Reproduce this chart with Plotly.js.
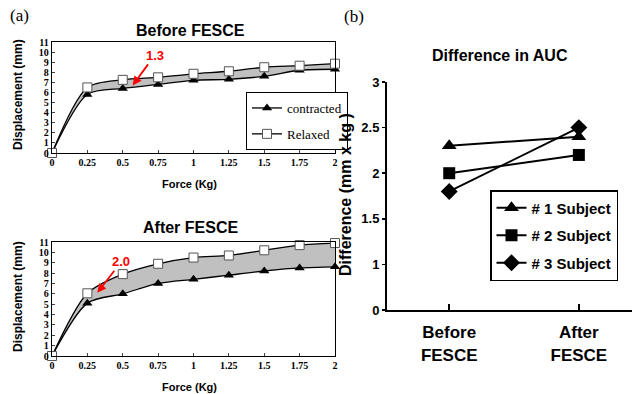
<!DOCTYPE html>
<html><head><meta charset="utf-8">
<script src="https://cdn.plot.ly/plotly-3.0.1.min.js"></script>
<style>html,body{margin:0;padding:0;background:#fff}#chart{width:635px;height:394px}</style>
</head><body><div id="chart"></div>
<script>
const force = [0,0.25,0.5,0.75,1,1.25,1.5,1.75,2];
const forceTicks = ['0','0.25','0.5','0.75','1','1.25','1.5','1.75','2'];
const beforeContracted = [0,5.8,6.4,6.8,7.2,7.3,7.6,8.2,8.3];
const beforeRelaxed   = [0,6.5,7.25,7.5,7.85,8.1,8.5,8.65,8.85];
const afterContracted = [0,5.1,6.0,7.0,7.4,7.8,8.2,8.5,8.6];
const afterRelaxed    = [0,6.05,7.9,8.9,9.5,9.7,10.2,10.7,10.9];
const seriesNames = ['contracted','Relaxed'];

const phasePos = [1,2];
const phaseLabels = ['Before<br>FESCE','After<br>FESCE'];
const subjectNames = ['# 1 Subject','# 2 Subject','# 3 Subject'];
const subject1 = [2.3,2.4];
const subject2 = [2.0,2.2];
const subject3 = [1.8,2.5];
const aucTickVals = [0.5,1,1.5,2,2.5,3];
const aucTickText = ['0','1','1.5','2','2.5','3'];

const fillGrey = '#c0c0c0';
const serif = 'Liberation Serif, Times New Roman, serif';
const sans = 'Liberation Sans, Arial, sans-serif';

function pair(xa, ya, c, r, showLeg) {
  const ln = {color: '#000', width: 1.3, shape: 'spline', smoothing: 0.8};
  return [
    {x: force, y: c, xaxis: xa, yaxis: ya, type: 'scatter', mode: 'lines', showlegend: false,
     hoverinfo: 'skip', line: {color: 'rgba(0,0,0,0)', width: 0, shape: 'spline', smoothing: 0.8}},
    {x: force, y: r, xaxis: xa, yaxis: ya, type: 'scatter', mode: 'lines', showlegend: false,
     hoverinfo: 'skip', fill: 'tonexty', fillcolor: fillGrey,
     line: {color: 'rgba(0,0,0,0)', width: 0, shape: 'spline', smoothing: 0.8}},
    {x: force, y: c, xaxis: xa, yaxis: ya, type: 'scatter', mode: 'lines+markers',
     name: seriesNames[0], legendgroup: 'c', showlegend: showLeg, cliponaxis: false,
     line: ln, marker: {symbol: 'triangle-up', size: 9, color: '#000'}},
    {x: force, y: r, xaxis: xa, yaxis: ya, type: 'scatter', mode: 'lines+markers',
     name: seriesNames[1], legendgroup: 'r', showlegend: showLeg, cliponaxis: false,
     line: ln, marker: {symbol: 'square', size: 9, color: '#fff', line: {color: '#555', width: 1}}}
  ];
}

const subj = [subject1, subject2, subject3];
const syms = ['triangle-up','square','diamond'];
const symSizes = [13, 12, 13];
const rightTraces = subj.map((s, i) => ({
  x: phasePos, y: s, xaxis: 'x3', yaxis: 'y3', type: 'scatter', mode: 'lines+markers',
  name: subjectNames[i], legend: 'legend2', legendgroup: 's' + i, cliponaxis: false,
  line: {color: '#000', width: 2}, marker: {symbol: syms[i], size: symSizes[i], color: '#000'}
}));

const data = [...pair('x','y',beforeContracted,beforeRelaxed,true),
              ...pair('x2','y2',afterContracted,afterRelaxed,false),
              ...rightTraces];

const leftX = {domain: [52/635, 335/635], range: [0,2], tickvals: force, ticktext: forceTicks,
  showline: true, mirror: true, linecolor: '#000', linewidth: 1.2, ticks: 'inside', ticklen: 3,
  showgrid: false, zeroline: false, tickfont: {family: serif, size: 10, color: '#000', weight: 'bold'}};
const leftY = {range: [0,11], dtick: 1, showline: true, mirror: true, linecolor: '#000', linewidth: 1.2,
  ticks: 'inside', ticklen: 3, showgrid: false, zeroline: false,
  tickfont: {family: serif, size: 10, color: '#000', weight: 'bold'}};

const layout = {
  width: 635, height: 394, margin: {l:0, r:0, t:0, b:0},
  paper_bgcolor: '#fff', plot_bgcolor: 'rgba(0,0,0,0)', showlegend: true,
  xaxis: Object.assign({}, leftX, {anchor: 'y'}),
  yaxis: Object.assign({}, leftY, {domain: [1-153/394, 1-42/394], anchor: 'x'}),
  xaxis2: Object.assign({}, leftX, {anchor: 'y2'}),
  yaxis2: Object.assign({}, leftY, {domain: [1-356/394, 1-242/394], anchor: 'x2'}),
  xaxis3: {domain: [387/635, 632/635], range: [0.52, 2.41], anchor: 'y3',
    tickvals: phasePos, ticktext: phaseLabels, showline: true, linecolor: '#000', linewidth: 2,
    ticks: 'inside', ticklen: 6, tickwidth: 1.5, tickcolor: '#000', showgrid: false, zeroline: false,
    ticklabelstandoff: 6, tickfont: {family: sans, size: 17, color: '#000', weight: 'bold'}},
  yaxis3: {domain: [1-310/394, 1-82/394], range: [0.5, 3], anchor: 'x3',
    tickvals: aucTickVals, ticktext: aucTickText, showline: true, linecolor: '#000', linewidth: 2,
    ticks: 'outside', ticklen: 3, tickwidth: 1.5, tickcolor: '#000', showgrid: false, zeroline: false,
    ticklabelstandoff: 0, tickfont: {family: sans, size: 13, color: '#000', weight: 'bold'}},
  legend: {x: 246/635, y: 1-92/394, xanchor: 'left', yanchor: 'top', bgcolor: '#fff',
    bordercolor: '#000', borderwidth: 1, traceorder: 'grouped', tracegroupgap: 6,
    font: {family: serif, size: 13, color: '#000'}, itemwidth: 30},
  legend2: {x: 490/635, y: 1-190/394, xanchor: 'left', yanchor: 'top', bgcolor: '#fff',
    bordercolor: '#000', borderwidth: 1.5, traceorder: 'grouped', tracegroupgap: 5,
    font: {family: sans, size: 15, color: '#000', weight: 'bold'}},
  annotations: [
    {xref:'paper', yref:'paper', x: 8/635, y: 1-15/394, xanchor:'left', yanchor:'middle', showarrow:false,
     text:'(a)', font:{family: serif, size: 17, color:'#000'}},
    {xref:'paper', yref:'paper', x: 342/635, y: 1-17/394, xanchor:'left', yanchor:'middle', showarrow:false,
     text:'(b)', font:{family: serif, size: 17, color:'#000'}},
    {xref:'paper', yref:'paper', x: 190/635, y: 1-30/394, xanchor:'center', yanchor:'middle', showarrow:false,
     text:'Before FESCE', font:{family: sans, size: 16, color:'#000', weight:'bold'}},
    {xref:'paper', yref:'paper', x: 190/635, y: 1-228/394, xanchor:'center', yanchor:'middle', showarrow:false,
     text:'After FESCE', font:{family: sans, size: 16, color:'#000', weight:'bold'}},
    {xref:'paper', yref:'paper', x: 189/635, y: 1-184/394, xanchor:'center', yanchor:'middle', showarrow:false,
     text:'Force (Kg)', font:{family: sans, size: 11, color:'#000', weight:'bold'}},
    {xref:'paper', yref:'paper', x: 189/635, y: 1-387/394, xanchor:'center', yanchor:'middle', showarrow:false,
     text:'Force (Kg)', font:{family: sans, size: 11, color:'#000', weight:'bold'}},
    {xref:'paper', yref:'paper', x: 18/635, y: 1-95/394, xanchor:'center', yanchor:'middle', showarrow:false,
     textangle:-90, text:'Displacement (mm)', font:{family: sans, size: 12, color:'#000', weight:'bold'}},
    {xref:'paper', yref:'paper', x: 18/635, y: 1-297/394, xanchor:'center', yanchor:'middle', showarrow:false,
     textangle:-90, text:'Displacement (mm)', font:{family: sans, size: 12, color:'#000', weight:'bold'}},
    {xref:'paper', yref:'paper', x: 500/635, y: 1-55/394, xanchor:'center', yanchor:'middle', showarrow:false,
     text:'Difference in AUC', font:{family: sans, size: 16, color:'#000', weight:'bold'}},
    {xref:'paper', yref:'paper', x: 345/635, y: 1-195/394, xanchor:'center', yanchor:'middle', showarrow:false,
     textangle:-90, text:'Difference (mm x kg )', font:{family: sans, size: 16, color:'#000', weight:'bold'}},
    {xref:'x', yref:'y', x: 0.57, y: 6.7, ax: 22, ay: -30, text:'1.3', showarrow:true,
     arrowhead: 2, arrowsize: 1, arrowwidth: 1.8, arrowcolor:'#ff0000',
     font:{family: sans, size: 13, color:'#ff0000', weight:'bold'}},
    {xref:'x2', yref:'y2', x: 0.32, y: 6.1, ax: 24, ay: -31, text:'2.0', showarrow:true,
     arrowhead: 2, arrowsize: 1, arrowwidth: 1.8, arrowcolor:'#ff0000',
     font:{family: sans, size: 13, color:'#ff0000', weight:'bold'}}
  ]
};

Plotly.newPlot('chart', data, layout, {staticPlot: true, displayModeBar: false});
</script></body></html>
